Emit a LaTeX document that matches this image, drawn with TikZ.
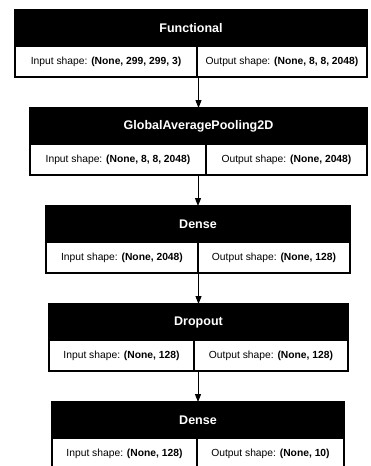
\documentclass[tikz,border=0pt]{standalone}
\usepackage{fontspec}
\setmainfont{Liberation Sans}
\usetikzlibrary{arrows.meta}
\tikzset{
  hdr/.style={draw=black, fill=black, line width=1.3pt, inner sep=0pt, outer sep=0pt,
    minimum height=36pt, text=white, font=\fontsize{12.5}{14}\selectfont\bfseries},
  cell/.style={draw=black, fill=white, line width=1.3pt, inner sep=0pt, outer sep=0pt,
    minimum height=31pt, font=\fontsize{10.3}{12}\selectfont},
  arr/.style={draw=black, line width=1pt, -{Triangle[length=8pt,width=6pt]}}
}
\newcommand\layerbox[8]{%
  \node[hdr, minimum width={#3-#2}, anchor=north west] (h#1) at (#2,#4) {#6};
  \node[cell, minimum width={#5-#2}, anchor=north west] (i#1) at (h#1.south west) {Input shape: \textbf{#7}};
  \node[cell, minimum width={#3-#5}, anchor=north east] (o#1) at (h#1.south east) {Output shape: \textbf{#8}};
}
\begin{document}
\begin{tikzpicture}[x=1pt,y=-1pt]
\useasboundingbox (0,0) rectangle (371,466);
\clip (0,0) rectangle (371,466);
\fill[white] (0,0) rectangle (371,466);
\layerbox{1}{15}{367}{10}{197}{Functional}{(None, 299, 299, 3)}{(None, 8, 8, 2048)}
\layerbox{2}{30}{367}{108}{206}{GlobalAveragePooling2D}{(None, 8, 8, 2048)}{(None, 2048)}
\layerbox{3}{46}{350}{206}{198}{Dense}{(None, 2048)}{(None, 128)}
\layerbox{4}{49}{348}{304}{194}{Dropout}{(None, 128)}{(None, 128)}
\layerbox{5}{52}{344}{402}{197}{Dense}{(None, 128)}{(None, 10)}
\draw[arr] (h2.north |- o1.south) -- (h2.north);
\draw[arr] (h3.north |- o2.south) -- (h3.north);
\draw[arr] (h4.north |- o3.south) -- (h4.north);
\draw[arr] (h5.north |- o4.south) -- (h5.north);
\end{tikzpicture}
\end{document}
